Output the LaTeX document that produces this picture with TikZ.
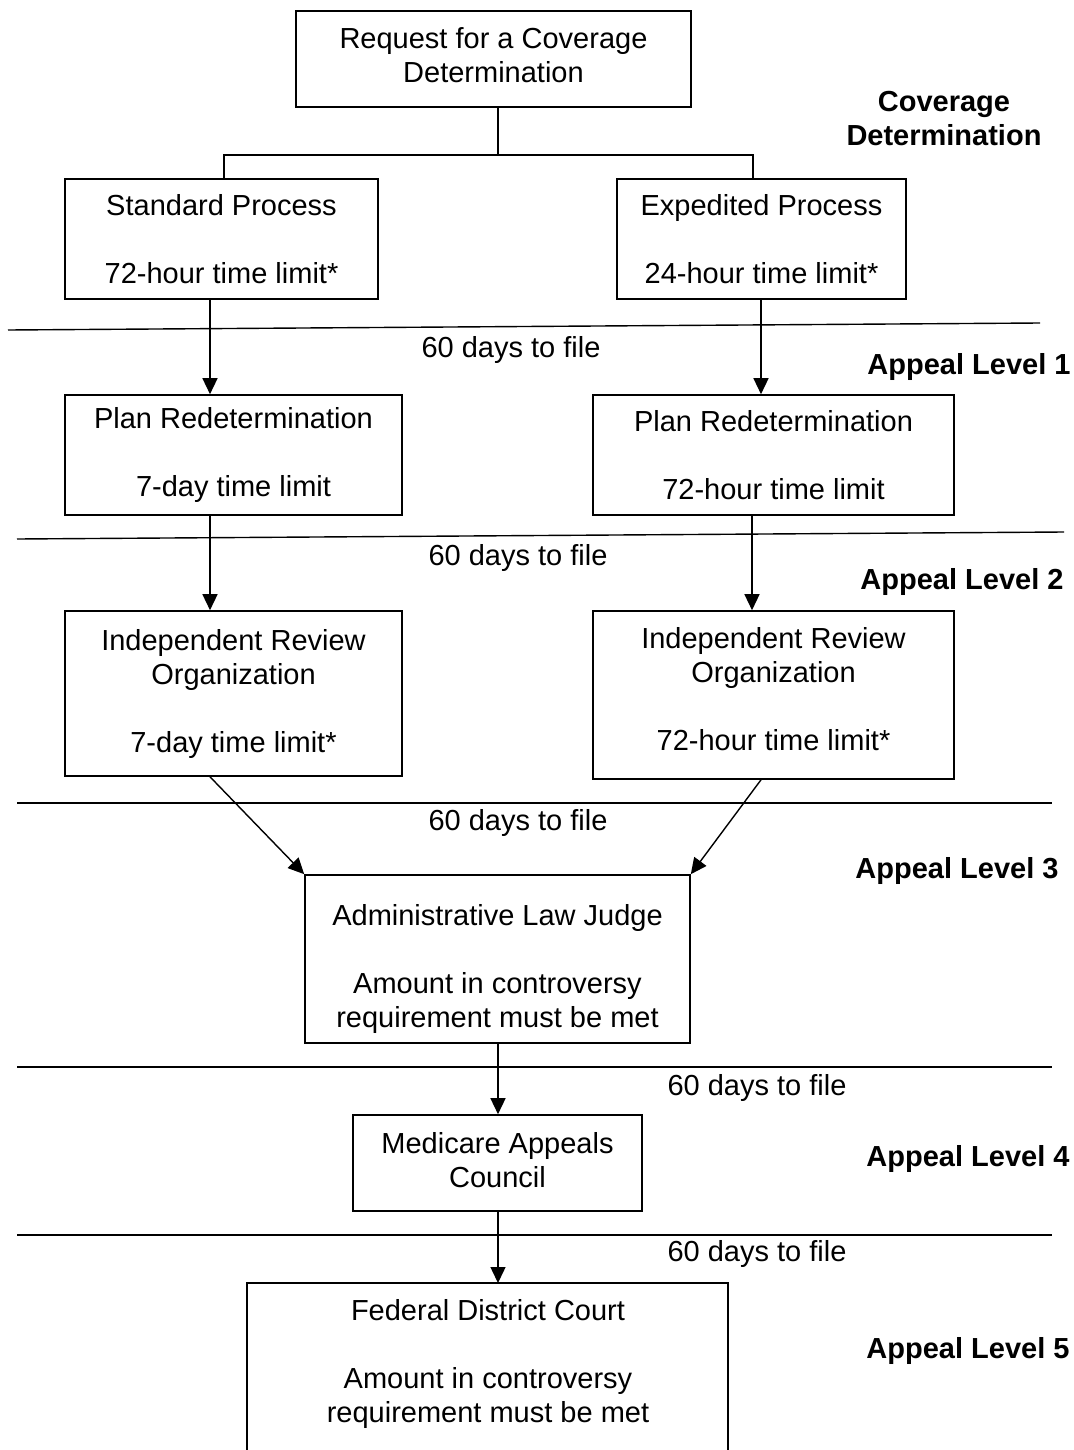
\documentclass[tikz,border=0pt]{standalone}
\usepackage{fontspec}
\setmainfont{Liberation Sans}
\usetikzlibrary{arrows.meta,calc}
\begin{document}
\begin{tikzpicture}[x=1pt,y=-1pt,
  box/.style={draw, line width=1.6pt, align=center, inner sep=0pt,
    font=\fontsize{29}{34}\selectfont},
  txt/.style={align=center, inner sep=0pt, font=\fontsize{29}{34}\selectfont},
  lbl/.style={font=\fontsize{29}{34}\selectfont, inner sep=0pt},
  lvl/.style={font=\fontsize{29}{34}\selectfont\bfseries, align=center, inner sep=0pt},
  conn/.style={line width=1.4pt},
  arr/.style={line width=1.4pt, -{Triangle[width=15pt,length=16pt]}},
  sep/.style={line width=1.4pt}]
\useasboundingbox (0,0) rectangle (1073,1450);
% boxes
\node[box, minimum width=395, minimum height=96] (req) at (493.5,59) {};
\node[txt] (reqt) at (493.5,55) {Request for a Coverage\\Determination};
\node[box, minimum width=313, minimum height=120] (std) at (221.5,239) {Standard Process\\[34pt]72-hour time limit*};
\node[box, minimum width=289, minimum height=120] (exp) at (761.5,239) {Expedited Process\\[34pt]24-hour time limit*};
\node[box, minimum width=337, minimum height=120] (prl) at (233.5,455) {Plan Redetermination\\[34pt]7-day time limit};
\node[box, minimum width=361, minimum height=120] (prr) at (773.5,455) {Plan Redetermination\\[34pt]72-hour time limit};
\node[box, minimum width=337, minimum height=165] (irol) at (233.5,693.5) {Independent Review\\Organization\\[34pt]7-day time limit*};
\node[box, minimum width=361, minimum height=168] (iror) at (773.5,695) {};
\node[txt] (iror t) at (773.5,689) {Independent Review\\Organization\\[34pt]72-hour time limit*};
\node[box, minimum width=385, minimum height=168] (alj) at (497.5,959) {};
\node[txt] (aljt) at (497.5,969) {Administrative Law Judge\\[34pt]Amount in controversy\\requirement must be met};
\node[box, minimum width=289, minimum height=96] (mac) at (497.5,1163) {};
\node[txt] (mact) at (497.5,1160.5) {Medicare Appeals\\Council};
% last box, cut off at the bottom
\coordinate (fdcnw) at (247,1283);
\coordinate (fdcne) at (728,1283);
\coordinate (fdctop) at (498,1283);
\draw[line width=1.6pt] (247,1460) -- (fdcnw) -- (fdcne) -- (728,1460);
\node[txt] (fdc) at (488,1364) {Federal District Court\\[34pt]Amount in controversy\\requirement must be met};
% tree
\coordinate (jn) at (498,155);
\coordinate (jl) at (224,155);
\coordinate (jr) at (753,155);
\draw[conn] (req.south -| jn) -- (jn);
\draw[conn] (std.north -| jl) |- (jr) -- (exp.north -| jr);
% separators
\coordinate (s1a) at (8,330);   \coordinate (s1b) at (1040,323);
\coordinate (s2a) at (17,539);  \coordinate (s2b) at (1064,532);
\coordinate (s3a) at (17,803);  \coordinate (s3b) at (1052,803);
\coordinate (s4a) at (17,1067); \coordinate (s4b) at (1052,1067);
\coordinate (s5a) at (17,1235); \coordinate (s5b) at (1052,1235);
\foreach \i in {1,...,5} {\draw[sep] (s\i a) -- (s\i b);}
% arrows
\coordinate (xl) at (210,0);
\coordinate (xr) at (761,0);
\coordinate (xr2) at (752,0);
\coordinate (xc) at (498,0);
\draw[arr] (std.south -| xl) -- (prl.north -| xl);
\draw[arr] (exp.south -| xr) -- (prr.north -| xr);
\draw[arr] (prl.south -| xl) -- (irol.north -| xl);
\draw[arr] (prr.south -| xr2) -- (iror.north -| xr2);
\draw[arr] (irol.south -| xl) -- (alj.north west);
\draw[arr] (iror.south -| xr) -- (alj.north east);
\draw[arr] (alj.south -| xc) -- (mac.north -| xc);
\draw[arr] (mac.south -| xc) -- (fdctop);
% file labels
\node[lbl] (f1) at (511,350) {60 days to file};
\node[lbl] (f2) at (518,558) {60 days to file};
\node[lbl] (f3) at (518,823) {60 days to file};
\node[lbl] (f4) at (757,1088) {60 days to file};
\node[lbl] (f5) at (757,1254) {60 days to file};
% level labels
\node[lvl] (l0) at (944,119) {Coverage\\Determination};
\node[lvl] (l1) at (969,367) {Appeal Level 1};
\node[lvl] (l2) at (962,582) {Appeal Level 2};
\node[lvl] (l3) at (957,871) {Appeal Level 3};
\node[lvl] (l4) at (968,1159) {Appeal Level 4};
\node[lvl] (l5) at (968,1351) {Appeal Level 5};
\end{tikzpicture}
\end{document}
